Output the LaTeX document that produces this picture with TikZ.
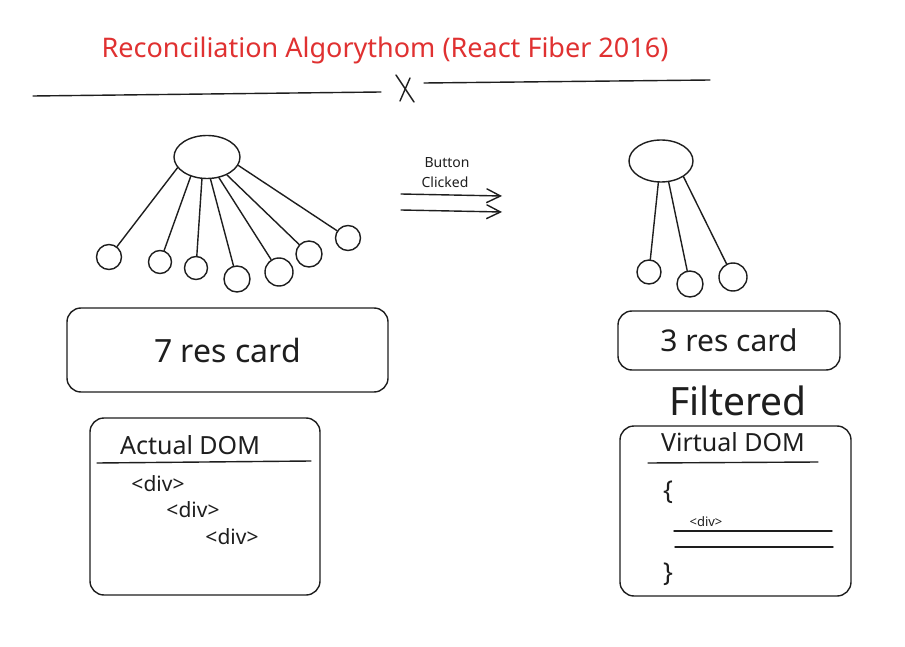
\documentclass[tikz,border=0pt]{standalone}
\usepackage{fontspec}
\setmainfont{Noto Sans}
\usetikzlibrary{shapes.geometric,arrows.meta}
\definecolor{xred}{RGB}{224,49,49}
\definecolor{ink}{RGB}{30,30,30}
\tikzset{
  stroke/.style={draw=ink,line width=1.4pt,line cap=round},
  hub/.style={stroke,ellipse,inner sep=0pt},
  leaf/.style={stroke,circle,inner sep=0pt},
  card/.style={stroke,rounded corners=14pt,inner sep=0pt},
  lbl/.style={text=ink,inner sep=0pt},
  edge/.style={stroke},
  flow/.style={stroke,-{Straight Barb[length=14pt,width=14pt,line width=1.4pt]}}
}
\begin{document}
\begin{tikzpicture}[x=1pt,y=-1pt]
\useasboundingbox[fill=white] (0,0) rectangle (905,647);
% title
\node[text=xred,font=\fontsize{27}{30}\selectfont,inner sep=0pt] (title) at (385,50) {Reconciliation Algorythom (React Fiber 2016)};
\coordinate (l1a) at (33,96); \coordinate (l1b) at (381,92);
\coordinate (l2a) at (424,83); \coordinate (l2b) at (710,80);
\draw[edge] (l1a) -- (l1b);
\draw[edge] (l2a) -- (l2b);
\coordinate (xa) at (396,75); \coordinate (xb) at (414,102);
\coordinate (xc) at (410,78); \coordinate (xd) at (400,101);
\draw[edge] (xa) -- (xb);
\draw[edge] (xc) -- (xd);
% left tree
\node[hub,minimum width=66pt,minimum height=43pt] (L) at (207,157) {};
\node[leaf,minimum size=25pt] (L1) at (109,257) {};
\node[leaf,minimum size=23pt] (L2) at (160,262) {};
\node[leaf,minimum size=23pt] (L3) at (196,268) {};
\node[leaf,minimum size=26pt] (L4) at (237,279) {};
\node[leaf,minimum size=28pt] (L5) at (279,272) {};
\node[leaf,minimum size=26pt] (L6) at (309,254) {};
\node[leaf,minimum size=25pt] (L7) at (348,238) {};
\foreach \a/\b in {200/L1,230/L2,257/L3,279/L4,300/L5,318/L6,345/L7}
  \draw[edge] (L.\a) -- (\b);
% arrows
\node[lbl,font=\fontsize{14}{16}\selectfont] (btn) at (447,163) {Button};
\node[lbl,font=\fontsize{14}{16}\selectfont] (clk) at (445,182) {Clicked};
\coordinate (a1s) at (401,194); \coordinate (a1e) at (502,196);
\coordinate (a2s) at (401,210); \coordinate (a2e) at (502,212);
\draw[flow] (a1s) -- (a1e);
\draw[flow] (a2s) -- (a2e);
% right tree
\node[hub,minimum width=64pt,minimum height=42pt] (R) at (661,161) {};
\node[leaf,minimum size=24pt] (R1) at (649,272) {};
\node[leaf,minimum size=26pt] (R2) at (690,284) {};
\node[leaf,minimum size=28pt] (R3) at (733,277) {};
\draw[edge] (R.263) -- (R1);
\draw[edge] (R.290) -- (R2);
\draw[edge] (R.325) -- (R3);
% cards
\node[card,minimum width=321pt,minimum height=84pt,font=\fontsize{32}{36}\selectfont,text=ink] (c7) at (227.5,350) {7 res card};
\node[card,minimum width=222pt,minimum height=59pt,font=\fontsize{30}{34}\selectfont,text=ink] (c3) at (729,340.5) {3 res card};
\node[lbl,font=\fontsize{39}{42}\selectfont] (filt) at (738,401) {Filtered};
% actual DOM
\node[card,minimum width=230pt,minimum height=177pt] (adom) at (205,506.5) {};
\node[lbl,font=\fontsize{25}{28}\selectfont] (at) at (190,445) {Actual DOM};
\coordinate (al1) at (97,463); \coordinate (al2) at (311,461);
\draw[edge] (al1) -- (al2);
\node[lbl,font=\fontsize{21}{24}\selectfont] (d1) at (158,484) {<div>};
\node[lbl,font=\fontsize{21}{24}\selectfont] (d2) at (193,510) {<div>};
\node[lbl,font=\fontsize{21}{24}\selectfont] (d3) at (232,537) {<div>};
% virtual DOM
\node[card,minimum width=231pt,minimum height=170pt] (vdom) at (735.5,511) {};
\node[lbl,font=\fontsize{25}{28}\selectfont] (vt) at (733,442) {Virtual DOM};
\coordinate (vl1) at (648,463); \coordinate (vl2) at (818,462);
\draw[edge] (vl1) -- (vl2);
\node[lbl,font=\fontsize{26}{30}\selectfont] (ob) at (668,492) {\{};
\node[lbl,font=\fontsize{13}{15}\selectfont] (vd) at (706,522) {<div>};
\coordinate (v1a) at (674,531); \coordinate (v1b) at (832,531);
\coordinate (v2a) at (675,547); \coordinate (v2b) at (833,547);
\draw[edge] (v1a) -- (v1b);
\draw[edge] (v2a) -- (v2b);
\node[lbl,font=\fontsize{26}{30}\selectfont] (cb) at (668,574) {\}};
\end{tikzpicture}
\end{document}
